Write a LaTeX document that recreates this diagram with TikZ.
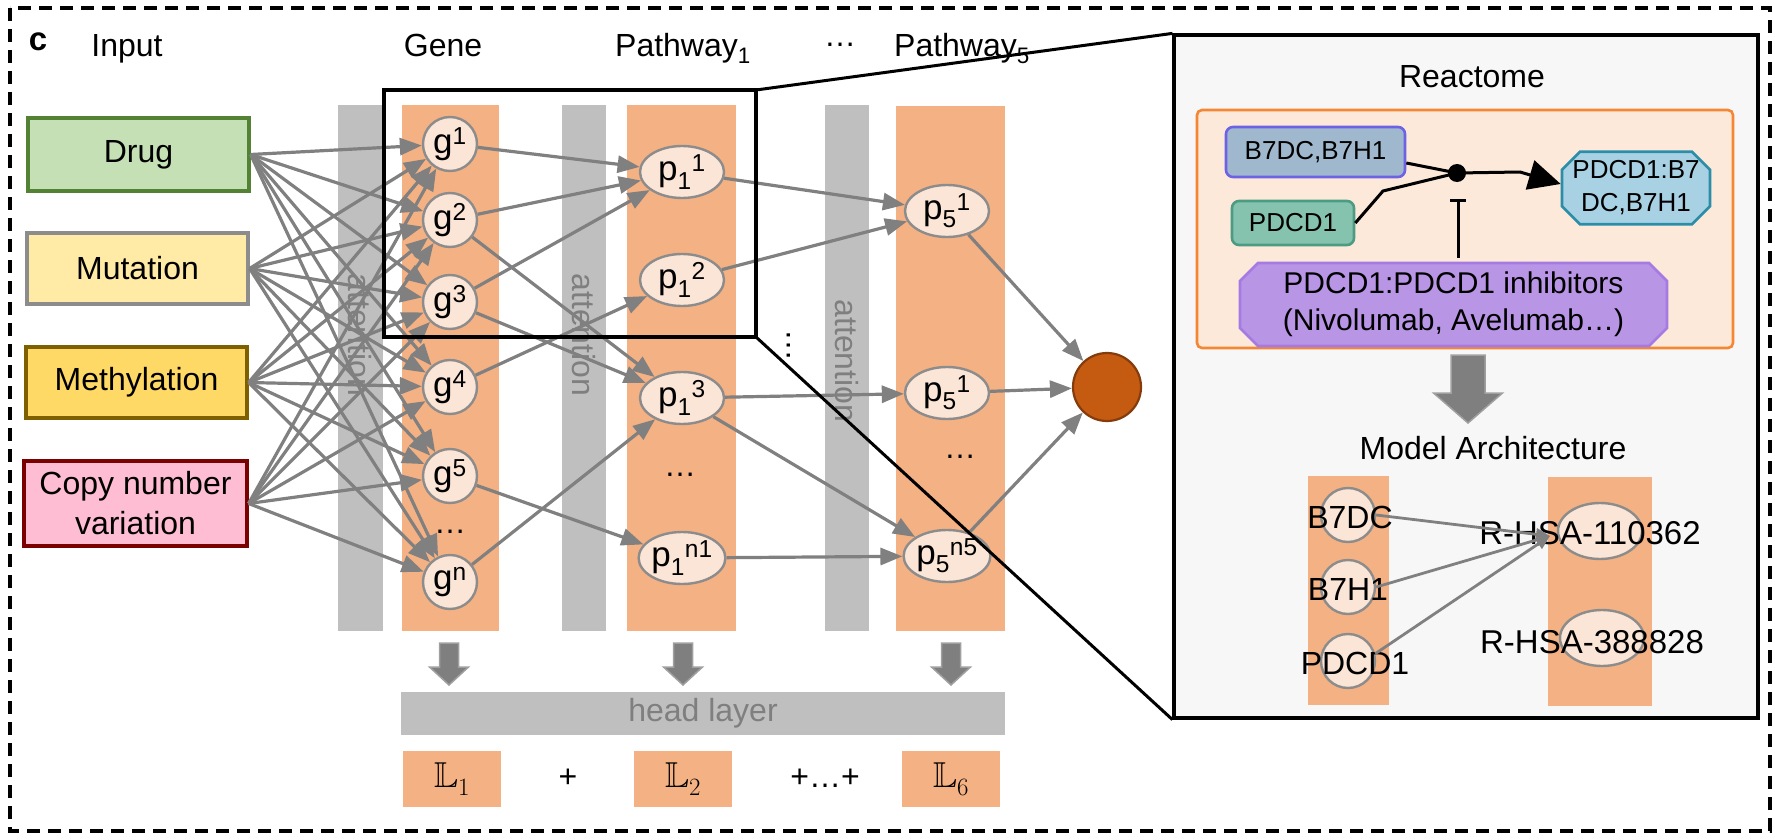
\documentclass[tikz,border=0pt]{standalone}
\usepackage[no-math]{fontspec}
\setmainfont{Liberation Sans}
\usepackage{amssymb}
\usetikzlibrary{arrows.meta,shapes.geometric,shapes.misc,calc}
\definecolor{colOr}{HTML}{F4B183}
\definecolor{barGray}{HTML}{BFBFBF}
\definecolor{txtGray}{HTML}{7F7F7F}
\definecolor{circFill}{HTML}{FBE5D6}
\definecolor{circDraw}{HTML}{8C8C8C}
\definecolor{connGray}{HTML}{808080}
\definecolor{drugFill}{HTML}{C5E0B4}
\definecolor{drugDraw}{HTML}{548235}
\definecolor{mutFill}{HTML}{FFEAA6}
\definecolor{mutDraw}{HTML}{8C8C8C}
\definecolor{methFill}{HTML}{FFD966}
\definecolor{methDraw}{HTML}{7F6000}
\definecolor{cnvFill}{HTML}{FFBDD4}
\definecolor{cnvDraw}{HTML}{7B0000}
\definecolor{outFill}{HTML}{C55A11}
\definecolor{outDraw}{HTML}{843C0C}
\definecolor{panelFill}{HTML}{F7F7F7}
\definecolor{reFill}{HTML}{FCE9D9}
\definecolor{reDraw}{HTML}{F58634}
\definecolor{bsFill}{HTML}{9FB8CD}
\definecolor{bsDraw}{HTML}{6E62E4}
\definecolor{pdFill}{HTML}{86C3AF}
\definecolor{pdDraw}{HTML}{4C9B83}
\definecolor{cxFill}{HTML}{A8D2E4}
\definecolor{cxDraw}{HTML}{2B8DA8}
\definecolor{puFill}{HTML}{B995E5}
\definecolor{puDraw}{HTML}{A57BE3}
\definecolor{arrFill}{HTML}{7F7F7F}
\definecolor{arrDraw}{HTML}{A0A0A0}
\newcommand{\blkdown}[6]{\filldraw[fill=arrFill,draw=arrDraw,line width=1.5pt] (#1-#4,#2) -- (#1+#4,#2) -- (#1+#4,#3-#6) -- (#1+#5,#3-#6) -- (#1,#3) -- (#1-#5,#3-#6) -- (#1-#4,#3-#6) -- cycle;}
\begin{document}
\begin{tikzpicture}[x=1pt,y=-1pt,
  f32/.style={font=\fontsize{32}{40}\selectfont},
  f35/.style={font=\fontsize{35}{42}\selectfont},
  inbox/.style={draw, line width=3.2pt, minimum width=221pt, inner sep=0pt, f32, align=center},
  gnode/.style={circle, draw=circDraw, fill=circFill, line width=2.4pt, minimum size=54pt, inner sep=0pt, f35},
  pnode/.style={ellipse, draw=circDraw, fill=circFill, line width=2.4pt, minimum width=84pt, minimum height=52pt, inner sep=0pt, f35},
  conn/.style={draw=connGray, line width=3.2pt, -{Triangle[length=22pt,width=17pt]}},
  mconn/.style={draw=connGray, line width=2.8pt, -{Triangle[length=14pt,width=12pt]}},
  hdr/.style={f32, anchor=base, inner sep=0pt},
  att/.style={f32, rotate=-90, text=txtGray, inner sep=0pt},
  lbox/.style={fill=colOr, minimum width=98pt, minimum height=56pt, inner sep=0pt, font=\fontsize{36}{40}\selectfont},
  rbx/.style={rounded corners=7pt, line width=2.6pt, inner sep=0pt, font=\fontsize{26}{33}\selectfont, align=center},
  chbx/.style={chamfered rectangle, chamfered rectangle xsep=9pt, chamfered rectangle ysep=9pt, line width=2.6pt, inner sep=0pt, align=center},
  rline/.style={line width=3pt, draw=black},
  dotsn/.style={f32, inner sep=0pt}
]
\useasboundingbox (0,0) rectangle (1775,840);
% outer dashed frame
\draw[line width=3.2pt, dash pattern=on 13pt off 8pt] (10,8) rectangle (1770,831);

% headers
\node[font=\fontsize{33}{40}\selectfont\bfseries, inner sep=0pt] (lblc) at (38,42) {c};
\node[hdr] (hInput) at (127,57) {Input};
\node[hdr] (hGene) at (443,57) {Gene};
\node[hdr] (hP1) at (683,57) {Pathway\textsubscript{1}};
\node[dotsn] (hDots) at (840,45) {…};
\node[hdr] (hP5) at (962,57) {Pathway\textsubscript{5}};

% input boxes
\node[inbox, fill=drugFill, draw=drugDraw, minimum height=73pt] (drug) at (138.5,154.5) {Drug};
\node[inbox, fill=mutFill, draw=mutDraw, minimum height=71pt] (mut) at (137.5,268.5) {Mutation};
\node[inbox, fill=methFill, draw=methDraw, minimum height=71pt] (meth) at (136.5,382.5) {Methylation};
\node[inbox, fill=cnvFill, draw=cnvDraw, minimum height=85pt, minimum width=223pt] (cnv) at (135.5,503.5) {Copy number\\variation};

% bars and columns
\fill[barGray] (338,105) rectangle (383,631);
\fill[colOr] (402,105) rectangle (499,631);
\fill[barGray] (562,105) rectangle (606,631);
\fill[colOr] (627,105) rectangle (736,631);
\fill[barGray] (825,105) rectangle (869,631);
\fill[colOr] (896,106) rectangle (1005,631);

\node[att] (att1) at (360,335) {attention};
\node[att] (att2) at (584,335) {attention};
\node[att] (att3) at (847,361) {attention};

% gene nodes
\node[gnode] (g1) at (450,144) {g\textsuperscript{1}};
\node[gnode] (g2) at (450,220) {g\textsuperscript{2}};
\node[gnode] (g3) at (450,302) {g\textsuperscript{3}};
\node[gnode] (g4) at (450,387) {g\textsuperscript{4}};
\node[gnode] (g5) at (450,476) {g\textsuperscript{5}};
\node[dotsn] (gdots) at (450,532) {…};
\node[gnode] (gn) at (450,582) {g\textsuperscript{n}};

% pathway 1
\node[pnode] (p11) at (682,172) {p\textsubscript{1}\textsuperscript{1}};
\node[pnode] (p12) at (682,280) {p\textsubscript{1}\textsuperscript{2}};
\node[pnode] (p13) at (682,398) {p\textsubscript{1}\textsuperscript{3}};
\node[dotsn] (p1dots) at (680,475) {…};
\node[pnode] (p1n) at (682,558) {p\textsubscript{1}\textsuperscript{n1}};

% pathway 5
\node[pnode] (p51) at (947,211) {p\textsubscript{5}\textsuperscript{1}};
\node[pnode] (p52) at (947,393) {p\textsubscript{5}\textsuperscript{1}};
\node[dotsn] (p5dots) at (960,457) {…};
\node[pnode] (p5n) at (947,556) {p\textsubscript{5}\textsuperscript{n5}};

\node[dotsn, rotate=90] (vdots) at (789,345) {…};

% output
\node[circle, fill=outFill, draw=outDraw, line width=2.2pt, minimum size=68pt, inner sep=0pt] (out) at (1107,387) {};

% input -> gene
\foreach \s in {drug,mut,meth,cnv}{
  \foreach \t in {g1,g2,g3,g4,g5,gn}{
    \draw[conn] (\s.east) -- (\t);
  }
}
% gene -> pathway1
\draw[conn] (g1) -- (p11);
\draw[conn] (g2) -- (p11);
\draw[conn] (g3) -- (p11);
\draw[conn] (g2) -- (p13);
\draw[conn] (g3) -- (p13);
\draw[conn] (g4) -- (p12);
\draw[conn] (g5) -- (p1n);
\draw[conn] (gn) -- (p13);
% pathway1 -> pathway5
\draw[conn] (p11) -- (p51);
\draw[conn] (p12) -- (p51);
\draw[conn] (p13) -- (p52);
\draw[conn] (p13) -- (p5n);
\draw[conn] (p1n) -- (p5n);
% pathway5 -> output
\draw[conn] (p51) -- (out);
\draw[conn] (p52) -- (out);
\draw[conn] (p5n) -- (out);

% block arrows, head layer, losses
\blkdown{449}{643}{685}{9.5}{19.5}{18}
\blkdown{683}{643}{685}{9.5}{19.5}{18}
\blkdown{951}{643}{685}{9.5}{19.5}{18}
\node[fill=barGray, minimum width=604pt, minimum height=43pt, inner sep=0pt, f32, text=txtGray] (head) at (703,713.5) {head layer};
\node[lbox] (L1) at (452,779) {$\mathbb{L}_1$};
\node[lbox] (L2) at (683,779) {$\mathbb{L}_2$};
\node[lbox] (L6) at (951,779) {$\mathbb{L}_6$};
\node[f32, inner sep=0pt] (plus1) at (568,778) {+};
\node[f32, inner sep=0pt] (plus2) at (825,778) {+…+};

% zoom rectangle and panel
\draw[line width=3.2pt] (384,90) rectangle (756,337);
\coordinate (zr1) at (756,90);
\coordinate (zr2) at (756,337);
\node[draw, line width=3.2pt, fill=panelFill, minimum width=584pt, minimum height=683pt, inner sep=0pt] (panel) at (1466,376.5) {};
\draw[line width=3pt] (zr1) -- (panel.north west);
\draw[line width=3pt] (zr2) -- (panel.south west);

% Reactome part
\node[f32, inner sep=0pt] (reTitle) at (1472,77) {Reactome};
\node[draw=reDraw, fill=reFill, line width=2.6pt, rounded corners=5pt, minimum width=536pt, minimum height=238pt, inner sep=0pt] (rbox) at (1465,229) {};
\node[rbx, fill=bsFill, draw=bsDraw, minimum width=179pt, minimum height=50pt] (bs) at (1315.5,152) {B7DC,B7H1};
\node[rbx, fill=pdFill, draw=pdDraw, minimum width=122pt, minimum height=44pt] (pd) at (1293,223) {PDCD1};
\node[chbx, fill=cxFill, draw=cxDraw, minimum width=148pt, minimum height=72pt, font=\fontsize{26}{33}\selectfont] (cx) at (1636,188) {PDCD1:B7\\DC,B7H1};
\node[chbx, fill=puFill, draw=puDraw, minimum width=427pt, minimum height=71pt, font=\fontsize{30}{37}\selectfont] (pu) at (1453.5,304.5) {PDCD1:PDCD1 inhibitors\\(Nivolumab, Avelumab…)};
\node[circle, fill=black, minimum size=18pt, inner sep=0pt] (dot) at (1457,173) {};
\coordinate (bend1) at (1383,191);
\coordinate (bend2) at (1520,172);
\draw[rline] ($(bs.east)+(0,11)$) -- (dot.center);
\draw[rline] ($(pd.east)+(0,0)$) -- (bend1) -- (dot.center);
\draw[rline, -{Triangle[length=32pt,width=30pt]}] (dot.center) -- (bend2) -- ($(cx.west)+(0,-4)$);
\coordinate (inhS) at (1458,258);
\coordinate (inhE) at (1458,199);
\draw[rline, -{Bar[width=16pt]}] (inhS) -- (inhE);

\blkdown{1468}{355}{423}{17}{34.5}{30}

% Model architecture
\node[f32, inner sep=0pt] (maTitle) at (1493,448) {Model Architecture};
\fill[colOr] (1308,476) rectangle (1389,705);
\fill[colOr] (1548,477) rectangle (1652,706);
\node[gnode] (mB7DC) at (1348,515) {};
\node[gnode] (mB7H1) at (1348,587) {};
\node[gnode] (mPD) at (1348,661) {};
\node[pnode, minimum height=56pt] (hsa1) at (1600,531) {};
\node[pnode, minimum height=56pt] (hsa2) at (1602,638) {};
\node[f32, inner sep=0pt] (tB7DC) at (1350,517) {B7DC};
\node[f32, inner sep=0pt] (tB7H1) at (1348,589) {B7H1};
\node[f32, inner sep=0pt] (tPD) at (1355,663) {PDCD1};
\node[font=\fontsize{33}{40}\selectfont, inner sep=0pt] (th1) at (1590,533) {R-HSA-110362};
\node[font=\fontsize{33}{40}\selectfont, inner sep=0pt] (th2) at (1592,642) {R-HSA-388828};
\coordinate (hIn) at (1550,536);
\draw[mconn] (mB7DC.east) -- (hIn);
\draw[mconn] (mB7H1.east) -- (hIn);
\draw[mconn] (mPD.15) -- (hIn);
\end{tikzpicture}
\end{document}
